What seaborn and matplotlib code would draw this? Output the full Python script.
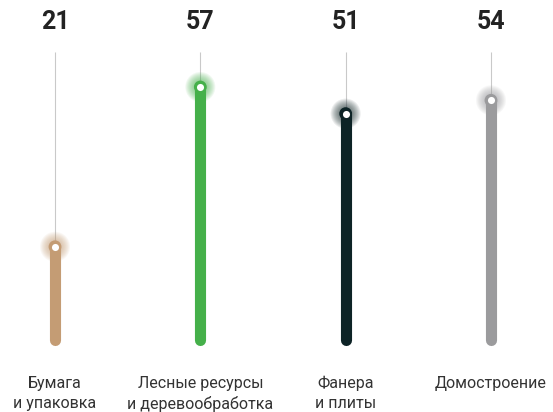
import numpy as np
import pandas as pd
import seaborn as sns
import matplotlib.pyplot as plt

# data
categories = ["Бумага\nи упаковка", "Лесные ресурсы\nи деревообработка", "Фанера\nи плиты", "Домостроение"]
values = [21, 57, 51, 54]
colors = ["#C49C74", "#45B04A", "#0D2326", "#9B9B9D"]

df = pd.DataFrame({"cat": categories, "value": values, "x": range(len(values))})

sns.set_theme(style="white")
plt.rcParams["font.family"] = ["Roboto", "DejaVu Sans"]

fig = plt.figure(figsize=(5.53, 4.12), dpi=100)
ax = fig.add_axes([0, 0, 1, 1])

# px scale: 0 at y=340 from top, 57 at y=87
scale = (340 - 87) / 57.0
y_lo = -(412 - 340) / scale
y_hi = 57 + 87 / scale
stem_top = (412 - 52) / scale + y_lo
ax.set_ylim(y_lo, y_hi)
ax.set_xlim(-55 / 145.3, 3 + (553 - 491) / 145.3)

# thin gray stems up to the value labels
ax.vlines(df["x"], df["value"], stem_top, color="#C9C9C9", lw=0.8, zorder=1)

# glow around the dots
for r in np.linspace(15, 5, 11):
    sns.scatterplot(data=df, x="x", y="value", hue="cat", palette=colors,
                    s=(2 * r * 0.72) ** 2, alpha=0.08, linewidth=0,
                    legend=False, ax=ax, zorder=2)

# thick rounded bars
for i, row in df.iterrows():
    ax.plot([row["x"], row["x"]], [0, row["value"]], color=colors[i],
            lw=8, solid_capstyle="round", zorder=3)

sns.scatterplot(data=df, x="x", y="value", hue="cat", palette=colors,
                s=85, linewidth=0, legend=False, ax=ax, zorder=4)
sns.scatterplot(data=df, x="x", y="value", color="white",
                s=26, linewidth=0, legend=False, ax=ax, zorder=5)

tr = ax.get_xaxis_transform()
for i, row in df.iterrows():
    ax.text(row["x"], 1 - 22 / 412, str(row["value"]), transform=tr,
            ha="center", va="center", fontsize=18, fontweight="bold", color="#222222")
    ax.text(row["x"], 1 - 376 / 412, row["cat"], transform=tr,
            ha="center", va="top", fontsize=11.5, color="#333333", linespacing=1.38)

ax.axis("off")
fig.savefig("out.png", dpi=100, facecolor="white")
